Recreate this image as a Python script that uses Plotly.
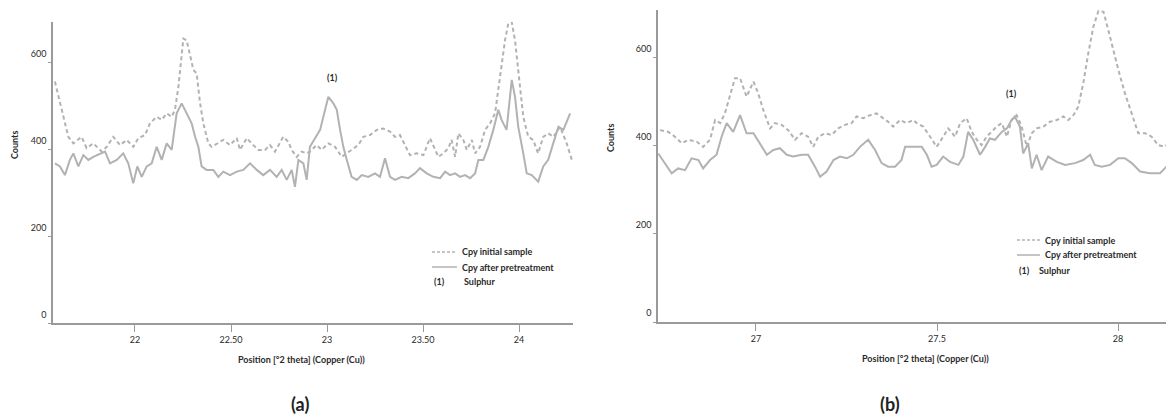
import plotly.graph_objects as go

# ---------------- data ----------------
# Panel (a): 2-theta 21.57 .. 24.28
a_theta_initial = [21.583, 21.627, 21.653, 21.679, 21.722, 21.748, 21.783, 21.827, 21.853, 21.887,
                   21.922, 21.957, 21.991, 22.017, 22.052, 22.078, 22.113, 22.139, 22.165, 22.191,
                   22.208, 22.226, 22.243, 22.252, 22.269, 22.286, 22.304, 22.321, 22.339, 22.356,
                   22.382, 22.399, 22.426, 22.460, 22.495, 22.530, 22.547, 22.582, 22.616, 22.642,
                   22.677, 22.703, 22.729, 22.772, 22.798, 22.816, 22.842, 22.868, 22.894, 22.911,
                   22.946, 22.972, 23.007, 23.042, 23.077, 23.103, 23.137, 23.163, 23.189, 23.224,
                   23.259, 23.293, 23.328, 23.354, 23.380, 23.406, 23.432, 23.467, 23.502, 23.536,
                   23.563, 23.580, 23.606, 23.632, 23.649, 23.667, 23.684, 23.710, 23.728, 23.754,
                   23.771, 23.797, 23.823, 23.849, 23.875, 23.901, 23.927, 23.944, 23.962, 23.979,
                   23.996, 24.022, 24.048, 24.074, 24.099, 24.126, 24.152, 24.179, 24.214, 24.248,
                   24.275]
a_counts_initial = [555, 474, 428, 413, 428, 402, 413, 394, 405, 428,
                    409, 421, 405, 425, 432, 459, 474, 467, 482, 474,
                    490, 543, 612, 654, 650, 620, 582, 574, 505, 459,
                    413, 405, 413, 421, 409, 425, 398, 425, 409, 398,
                    398, 409, 394, 428, 417, 398, 382, 394, 390, 394,
                    409, 398, 413, 405, 382, 390, 402, 409, 428, 432,
                    444, 447, 440, 428, 432, 409, 386, 390, 386, 425,
                    398, 382, 390, 402, 421, 382, 436, 421, 398, 421,
                    390, 405, 444, 459, 482, 566, 650, 689, 692, 650,
                    574, 474, 428, 421, 390, 428, 436, 428, 451, 413,
                    375]

a_theta_after = [21.583, 21.609, 21.635, 21.661, 21.679, 21.705, 21.731, 21.757, 21.783, 21.818,
                 21.844, 21.870, 21.905, 21.939, 21.965, 21.991, 22.012, 22.035, 22.061, 22.087,
                 22.113, 22.139, 22.165, 22.191, 22.217, 22.243, 22.269, 22.295, 22.313, 22.330,
                 22.347, 22.373, 22.408, 22.434, 22.460, 22.495, 22.530, 22.564, 22.599, 22.634,
                 22.668, 22.703, 22.738, 22.764, 22.790, 22.816, 22.833, 22.851, 22.877, 22.894,
                 22.911, 22.938, 22.964, 22.990, 23.007, 23.033, 23.051, 23.068, 23.085, 23.103,
                 23.128, 23.155, 23.181, 23.215, 23.250, 23.276, 23.302, 23.328, 23.354, 23.389,
                 23.423, 23.458, 23.484, 23.519, 23.554, 23.589, 23.615, 23.641, 23.667, 23.693,
                 23.719, 23.745, 23.771, 23.788, 23.814, 23.840, 23.866, 23.892, 23.909, 23.935,
                 23.962, 23.979, 23.996, 24.022, 24.040, 24.066, 24.100, 24.126, 24.152, 24.178,
                 24.205, 24.231, 24.266]
a_counts_after = [367, 360, 340, 375, 390, 360, 386, 375, 382, 390,
                  394, 367, 375, 390, 367, 321, 360, 336, 360, 367,
                  405, 375, 413, 398, 482, 505, 482, 459, 428, 405,
                  360, 352, 352, 336, 348, 340, 348, 352, 367, 352,
                  340, 352, 336, 352, 329, 352, 313, 375, 367, 329,
                  405, 425, 444, 490, 520, 505, 490, 444, 405, 375,
                  336, 329, 340, 336, 344, 336, 379, 336, 329, 336,
                  333, 344, 356, 344, 336, 333, 348, 340, 344, 336,
                  340, 333, 344, 375, 375, 405, 444, 490, 467, 444,
                  559, 520, 451, 390, 344, 340, 325, 360, 375, 413,
                  451, 444, 482]

# Panel (b): 2-theta 26.73 .. 28.15
b_theta_initial = [26.735, 26.758, 26.776, 26.795, 26.813, 26.836, 26.854, 26.873, 26.887, 26.901,
                   26.914, 26.928, 26.942, 26.956, 26.974, 26.993, 27.006, 27.020, 27.039, 27.052,
                   27.071, 27.089, 27.108, 27.126, 27.144, 27.158, 27.172, 27.191, 27.209, 27.227,
                   27.246, 27.264, 27.278, 27.296, 27.315, 27.333, 27.352, 27.365, 27.379, 27.398,
                   27.416, 27.435, 27.444, 27.462, 27.481, 27.499, 27.517, 27.531, 27.550, 27.564,
                   27.582, 27.596, 27.610, 27.623, 27.637, 27.651, 27.665, 27.679, 27.693, 27.706,
                   27.720, 27.734, 27.748, 27.762, 27.775, 27.794, 27.812, 27.831, 27.849, 27.863,
                   27.877, 27.890, 27.904, 27.918, 27.932, 27.946, 27.960, 27.973, 27.987, 28.001,
                   28.019, 28.038, 28.056, 28.075, 28.093, 28.111, 28.130, 28.148]
b_counts_initial = [436, 432, 421, 406, 414, 410, 398, 414, 459, 452,
                    474, 512, 554, 554, 512, 546, 520, 482, 440, 452,
                    448, 436, 414, 429, 421, 398, 421, 429, 425, 440,
                    448, 452, 467, 463, 470, 474, 463, 455, 444, 459,
                    452, 459, 452, 444, 421, 398, 421, 440, 421, 452,
                    463, 432, 414, 402, 421, 432, 444, 452, 421, 459,
                    470, 444, 398, 429, 440, 444, 455, 459, 467, 459,
                    470, 489, 542, 611, 671, 707, 705, 664, 618, 573,
                    520, 474, 429, 429, 421, 402, 398, 414]

b_theta_after = [26.730, 26.749, 26.767, 26.785, 26.804, 26.822, 26.841, 26.854, 26.873, 26.891,
                 26.905, 26.919, 26.937, 26.956, 26.974, 26.993, 27.011, 27.030, 27.048, 27.066,
                 27.085, 27.103, 27.126, 27.144, 27.163, 27.177, 27.195, 27.214, 27.232, 27.251,
                 27.269, 27.287, 27.310, 27.329, 27.347, 27.365, 27.384, 27.402, 27.412, 27.435,
                 27.458, 27.472, 27.485, 27.499, 27.517, 27.536, 27.559, 27.573, 27.586, 27.600,
                 27.619, 27.633, 27.646, 27.660, 27.679, 27.693, 27.706, 27.715, 27.729, 27.738,
                 27.752, 27.762, 27.775, 27.789, 27.807, 27.831, 27.854, 27.881, 27.904, 27.923,
                 27.936, 27.955, 27.978, 28.001, 28.019, 28.038, 28.061, 28.088, 28.116, 28.134,
                 28.153]
b_counts_after = [383, 361, 338, 349, 345, 372, 368, 349, 368, 380,
                  421, 452, 432, 470, 429, 429, 406, 380, 391, 395,
                  380, 376, 380, 380, 353, 330, 342, 368, 376, 372,
                  380, 398, 414, 391, 361, 353, 353, 368, 398, 398,
                  398, 380, 353, 357, 376, 364, 357, 376, 432, 414,
                  380, 398, 417, 414, 432, 440, 459, 467, 444, 383,
                  406, 349, 380, 345, 376, 364, 357, 361, 368, 380,
                  357, 353, 357, 372, 372, 361, 342, 338, 338, 353,
                  376]

a_xticks = [22, 22.5, 23, 23.5, 24]
a_xtick_text = ["22", "22.50", "23", "23.50", "24"]
b_xticks = [27, 27.5, 28]
b_xtick_text = ["27", "27.5", "28"]
y_ticks = [0, 200, 400, 600]

series_names = ["Cpy initial sample", "Cpy after pretreatment"]
peak_label = "(1)"
peak_name = "Sulphur"
a_peak = (23.03, 548)
b_peak = (27.706, 503)

# ---------------- styling ----------------
# The page body adds an 8px margin; the figure fills the rest of the 1174x420 window.
PAGE_W, PAGE_H = 1174, 420
OFF = 8
W, H = PAGE_W - OFF, PAGE_H - OFF
FONT = "Lato"
LINE_COL = "#b2b2b2"
AXIS_COL = "#9a9a9a"
TEXT_COL = "#2a2a2a"
DASH = "4px,3px"


def fx(p):
    """screen pixel x -> paper fraction"""
    return (p - OFF) / W


def fy(p):
    """screen pixel y -> paper fraction"""
    return 1 - (p - OFF) / H


fig = go.Figure()

fig.add_trace(go.Scatter(x=a_theta_initial, y=a_counts_initial, mode="lines", name=series_names[0],
                         line=dict(color=LINE_COL, width=2, dash=DASH), xaxis="x", yaxis="y",
                         showlegend=False))
fig.add_trace(go.Scatter(x=a_theta_after, y=a_counts_after, mode="lines", name=series_names[1],
                         line=dict(color=LINE_COL, width=2), xaxis="x", yaxis="y", showlegend=False))
fig.add_trace(go.Scatter(x=b_theta_initial, y=b_counts_initial, mode="lines", name=series_names[0],
                         line=dict(color=LINE_COL, width=2, dash=DASH), xaxis="x2", yaxis="y2",
                         showlegend=False))
fig.add_trace(go.Scatter(x=b_theta_after, y=b_counts_after, mode="lines", name=series_names[1],
                         line=dict(color=LINE_COL, width=2), xaxis="x2", yaxis="y2", showlegend=False))

axis_common = dict(showline=True, linecolor=AXIS_COL, linewidth=1.5, showgrid=False, zeroline=False,
                   ticks="outside", tickcolor=AXIS_COL, tickwidth=1,
                   tickfont=dict(family=FONT, size=9, color=TEXT_COL))

fig.update_layout(
    width=W, height=H, autosize=False,
    margin=dict(l=0, r=0, t=0, b=0),
    paper_bgcolor="white", plot_bgcolor="white",
    showlegend=False,
    xaxis=dict(domain=[fx(53), fx(573)], range=[21.573, 24.281], anchor="y",
               tickvals=a_xticks, ticktext=a_xtick_text, ticklen=7, **axis_common),
    yaxis=dict(domain=[fy(323), fy(22)], range=[0, 692], anchor="x",
               tickvals=y_ticks, ticklen=3, ticklabelshift=-8, **axis_common),
    xaxis2=dict(domain=[fx(658), 1.0], range=[26.7293, 28.1547], anchor="y2",
                tickvals=b_xticks, ticktext=b_xtick_text, ticklen=7, **axis_common),
    yaxis2=dict(domain=[fy(322), fy(10)], range=[0, 709], anchor="x2",
                tickvals=y_ticks, ticklen=3, ticklabelshift=-9, **axis_common),
)

ann = []
small_bold = dict(family=FONT, size=9, color=TEXT_COL)

# axis titles
for xp, yp in [(15, 145), (610, 138)]:
    ann.append(dict(text="<b>Counts</b>", x=fx(xp), y=fy(yp), xref="paper", yref="paper",
                    textangle=-90, showarrow=False, font=small_bold, xanchor="center", yanchor="middle"))
for xp, yp in [(301, 359), (925, 358)]:
    ann.append(dict(text="<b>Position [°2 theta] (Copper (Cu))</b>", x=fx(xp), y=fy(yp),
                    xref="paper", yref="paper", showarrow=False, font=small_bold,
                    xanchor="center", yanchor="middle"))

# panel letters
for lbl, xp in [("(a)", 300), ("(b)", 890)]:
    ann.append(dict(text=f"<b>{lbl}</b>", x=fx(xp), y=fy(404), xref="paper", yref="paper",
                    showarrow=False, font=dict(family=FONT, size=18, color="#222222"),
                    xanchor="center", yanchor="middle"))

# peak markers
ann.append(dict(text=f"<b>{peak_label}</b>", x=a_peak[0], y=a_peak[1], xref="x", yref="y",
                showarrow=False, font=small_bold, yanchor="bottom"))
ann.append(dict(text=f"<b>{peak_label}</b>", x=b_peak[0], y=b_peak[1], xref="x2", yref="y2",
                showarrow=False, font=small_bold, yanchor="bottom"))

# legends (drawn as key boxes)
shapes = []
legend_specs = [
    # line_x0, line_x1, text_x, rows y, sulphur text x
    (432, 457, 460, [252, 267, 281], 462),
    (1017, 1040, 1043, [240, 255, 270], 1037),
]
for lx0, lx1, tx, rows, sx in legend_specs:
    shapes.append(dict(type="line", xref="paper", yref="paper", x0=fx(lx0), x1=fx(lx1),
                       y0=fy(rows[0]), y1=fy(rows[0]),
                       line=dict(color=LINE_COL, width=1.5, dash="3px,2px")))
    shapes.append(dict(type="line", xref="paper", yref="paper", x0=fx(lx0), x1=fx(lx1),
                       y0=fy(rows[1]), y1=fy(rows[1]), line=dict(color=LINE_COL, width=1.5)))
    for name, ry in zip(series_names, rows[:2]):
        ann.append(dict(text=f"<b>{name}</b>", x=fx(tx), y=fy(ry), xref="paper", yref="paper",
                        showarrow=False, font=small_bold, xanchor="left", yanchor="middle"))
    ann.append(dict(text=f"<b>{peak_label}</b>", x=fx(lx0), y=fy(rows[2]), xref="paper", yref="paper",
                    showarrow=False, font=small_bold, xanchor="left", yanchor="middle"))
    ann.append(dict(text=f"<b>{peak_name}</b>", x=fx(sx), y=fy(rows[2]), xref="paper", yref="paper",
                    showarrow=False, font=small_bold, xanchor="left", yanchor="middle"))

fig.update_layout(annotations=ann, shapes=shapes)

fig.write_html("out.html")
